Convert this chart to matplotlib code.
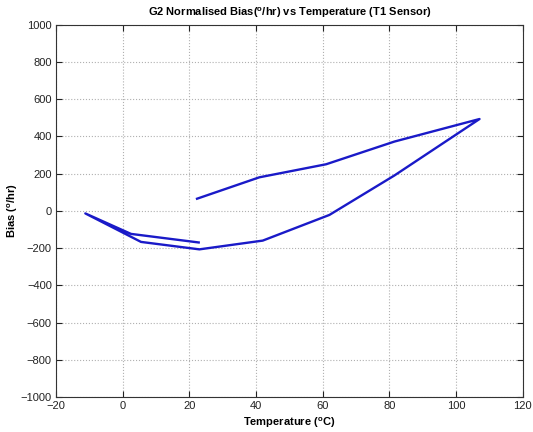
import matplotlib
matplotlib.use("Agg")
import matplotlib.pyplot as plt

# temperature (degC) and normalised bias (deg/hr)
temperature = [22.3, 41.0, 61.0, 81.5, 107.0, 81.5, 62.0, 42.0, 23.0, 5.5, -11.2, 2.5, 22.8]
bias = [65, 180, 250, 372, 493, 190, -22, -160, -207, -167, -14, -124, -170]

x_ticks = list(range(-20, 121, 20))
y_ticks = list(range(-1000, 1001, 200))

plt.rcParams["font.family"] = ["Liberation Sans", "DejaVu Sans"]

fig = plt.figure(figsize=(5.33, 4.32), dpi=100)
ax = fig.add_axes([0.105, 0.081, 0.876, 0.862])

ax.plot(temperature, bias, color="#1a1ac8", linewidth=1.7)

ax.set_xlim(-20, 120)
ax.set_ylim(-1000, 1000)
ax.set_xticks(x_ticks)
ax.set_yticks(y_ticks)
ax.tick_params(direction="in", length=4, labelsize=8, top=True, right=True,
               colors="#222222", pad=3)
ax.grid(True, linestyle=":", color="#b0b0b0", linewidth=0.8)
for s in ax.spines.values():
    s.set_linewidth(0.8)
    s.set_color("#333333")

ax.set_title(r"G2 Normalised Bias($^{\mathregular{o}}$/hr) vs Temperature (T1 Sensor)",
             fontsize=8, fontweight="bold", pad=6)
ax.set_xlabel(r"Temperature ($^{\mathregular{o}}$C)", fontsize=8, fontweight="bold", labelpad=3)
ax.set_ylabel(r"Bias ($^{\mathregular{o}}$/hr)", fontsize=8, fontweight="bold")
ax.yaxis.set_label_coords(-0.077, 0.5)

fig.savefig("out.png", dpi=100)
